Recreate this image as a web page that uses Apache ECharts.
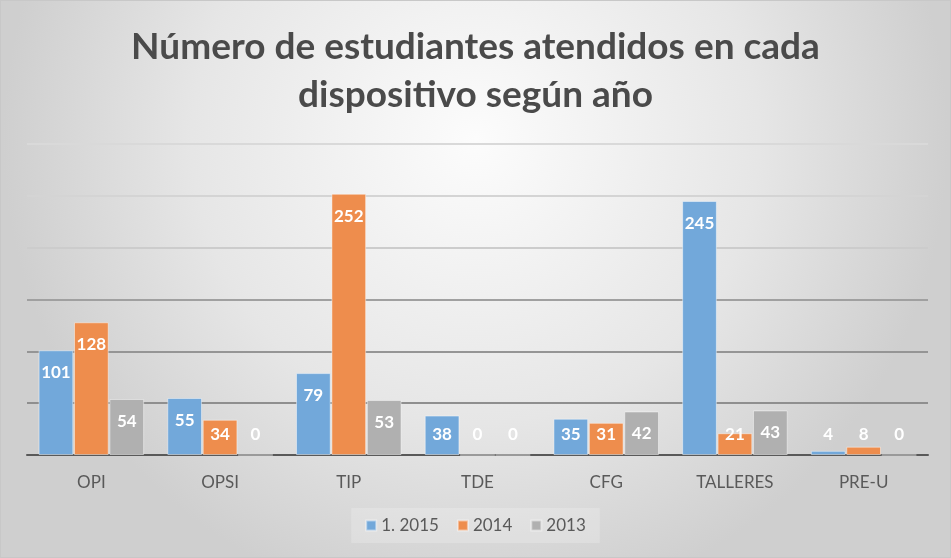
<!DOCTYPE html>
<html><head><meta charset="utf-8">
<script src="https://cdn.jsdelivr.net/npm/echarts@6/dist/echarts.min.js"></script>
<style>html,body{margin:0;padding:0;}#c{width:951px;height:558px;box-sizing:border-box;border:1px solid #c8c8c8;}</style>
</head><body><div id="c"></div>
<script>
const categories = ['OPI','OPSI','TIP','TDE','CFG','TALLERES','PRE-U'];
const seriesNames = ['1. 2015','2014','2013'];
const values2015 = [101,55,79,38,35,245,4];
const values2014 = [128,34,252,0,31,21,8];
const values2013 = [54,0,53,0,42,43,0];
const colors = ['#72a8da','#ee8d4d','#b0b0b0'];
const FONT = 'Lato, "Open Sans", sans-serif';

function items(vals){
  return vals.map(v => ({
    value: v,
    label: v < 40 ? {position:'insideBottom', distance: 12} : {position:'insideTop', distance: 14}
  }));
}
const all = [values2015, values2014, values2013];
const chart = echarts.init(document.getElementById('c'));
chart.setOption({
  backgroundColor: {type:'radial', x:0.5, y:0.25, r:0.85,
    colorStops:[{offset:0,color:'#fcfcfc'},{offset:0.6,color:'#e6e6e6'},{offset:1,color:'#cfcfcf'}]},
  animation:false,
  title:{text:'Número de estudiantes atendidos en cada\ndispositivo según año', left:'center', top:17,
    textStyle:{fontFamily:FONT, fontSize:37, fontWeight:'bold', color:'#4a4a4a', lineHeight:48}},
  legend:{bottom:14, left:'center', itemWidth:10, itemHeight:10, icon:'rect', itemGap:18,
    backgroundColor:'rgba(255,255,255,0.2)', padding:[9,14],
    textStyle:{fontFamily:FONT, fontSize:17, color:'#595959'}},
  grid:{left:26, right:22, top:143, bottom:102},
  xAxis:{type:'category', data:categories,
    axisLine:{lineStyle:{color:'#595959', width:2}}, axisTick:{show:false},
    axisLabel:{fontFamily:FONT, fontSize:17, color:'#595959', margin:19}},
  yAxis:{type:'value', min:0, max:300, interval:50, axisLabel:{show:false}, axisLine:{show:false}, axisTick:{show:false},
    splitLine:{lineStyle:{width:2, color:['#8f8f8f','#8f8f8f','#959595','#a0a0a0','#cccccc','#d4d4d4','#d9d9d9']}}},
  series: seriesNames.map((n,i)=>({
    name:n, type:'bar', data:items(all[i]), barGap:'2%', barCategoryGap:'18%',
    itemStyle:{color:colors[i], borderColor:'rgba(255,255,255,0.45)', borderWidth:1},
    label:{show:true, color:'#ffffff', fontFamily:FONT, fontSize:17, fontWeight:'bold'}
  }))
});
</script></body></html>
